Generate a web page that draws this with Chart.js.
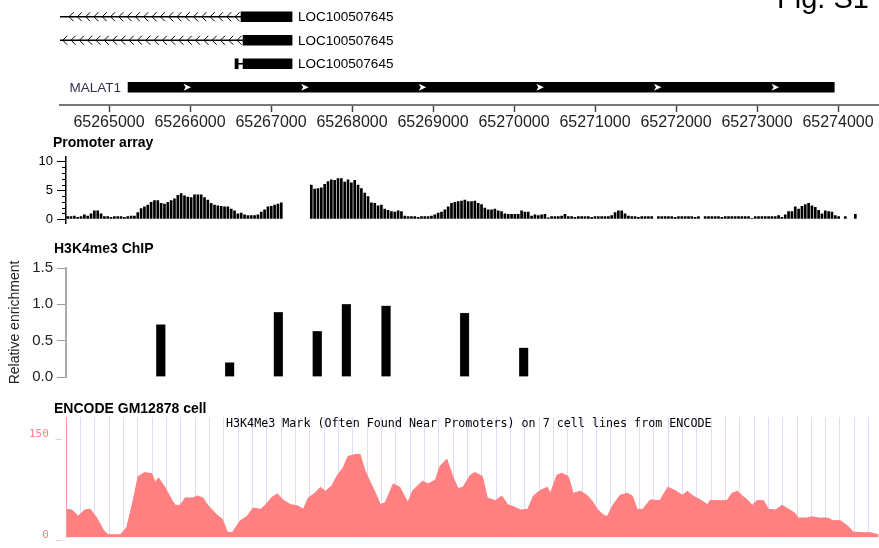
<!DOCTYPE html>
<html>
<head>
<meta charset="utf-8">
<script src="https://cdn.jsdelivr.net/npm/chart.js@4.4.0/dist/chart.umd.min.js"></script>
<style>
body { margin: 0; background: #fff; }
#wrap { position: relative; width: 879px; height: 548px; overflow: hidden; font-family: Arial, 'Liberation Sans', sans-serif; }
canvas { position: absolute; left: 0; }
.t { position: absolute; font-weight: bold; font-size: 14px; line-height: 16px; white-space: nowrap; color: #000; }
#fig { position: absolute; left: 777px; top: -16px; font-size: 29px; line-height: 29px; white-space: nowrap; }
#enctitle { position: absolute; left: 226px; top: 417px; font-family: 'DejaVu Sans Mono', monospace; font-size: 11.7px; line-height: 12px; white-space: nowrap; }
</style>
</head>
<body>
<div id="wrap">
  <canvas id="genes" width="879" height="100" style="top:0"></canvas>
  <canvas id="coord" width="879" height="40" style="top:95px"></canvas>
  <canvas id="prom" width="879" height="90" style="top:145px"></canvas>
  <canvas id="chip" width="879" height="135" style="top:255px"></canvas>
  <canvas id="enc" width="879" height="148" style="top:400px"></canvas>
  <div id="fig">Fig. S1</div>
  <div class="t" style="left:53px;top:134px">Promoter array</div>
  <div class="t" style="left:54px;top:240px">H3K4me3 ChIP</div>
  <div class="t" style="left:54px;top:400px">ENCODE GM12878 cell</div>
  <div id="enctitle">H3K4Me3 Mark (Often Found Near Promoters) on 7 cell lines from ENCODE</div>
</div>
<script>
// genes (hg19 chr11)
var geneNames = ['LOC100507645', 'LOC100507645', 'LOC100507645', 'MALAT1'];
var geneStrand = ['-', '-', '-', '+'];
var exonStart = [65266630, 65266655, 65266655, 65265235];
var exonEnd = [65267260, 65267260, 65267260, 65273954];
var intronStart = [65264395, 65264395, 65266595, null];
var smallExon = [null, null, [65266556, 65266595], null];

var coordTicks = [65265000, 65266000, 65267000, 65268000, 65269000,
                  65270000, 65271000, 65272000, 65273000, 65274000];

// promoter array probes, in order (null = no probe)
var promoterValues = [
  0.5,0.5,0.6,0.4,0.5,0.8,0.6,1.0,1.5,1.5,
  1.0,0.5,0.5,0.4,0.5,0.5,0.5,0.4,0.5,0.6,
  0.6,1.2,1.9,2.2,2.5,3.0,3.3,3.3,2.8,2.7,
  3.0,3.3,3.6,4.2,4.5,4.1,3.9,3.8,4.3,4.3,
  4.3,3.8,3.4,2.8,2.5,2.4,2.3,2.2,2.2,1.8,
  1.5,1.0,1.1,0.8,0.7,0.7,0.7,0.8,1.3,1.7,
  2.2,2.3,2.5,2.7,2.9,null,null,null,null,null,
  null,null,null,6.0,5.3,5.4,5.5,6.1,6.6,6.9,
  6.8,7.1,7.1,6.5,6.9,6.4,6.8,6.0,5.4,4.6,
  4.0,2.9,2.8,2.4,2.5,1.8,1.6,1.4,1.3,1.5,
  1.4,0.6,0.5,0.5,0.5,0.4,0.5,0.5,0.5,0.6,
  0.8,1.1,1.3,1.7,2.2,2.8,3.0,3.1,3.2,3.4,
  3.1,3.1,3.2,2.8,2.6,2.0,1.7,1.7,1.8,1.5,
  1.4,1.0,0.9,0.9,0.9,0.9,1.5,1.3,1.3,0.6,
  0.8,0.7,0.8,0.9,0.3,0.5,0.5,0.5,0.6,0.9,
  0.5,0.5,0.4,0.5,0.5,0.5,0.5,0.4,0.5,0.5,
  0.5,0.5,0.5,0.7,1.2,1.5,1.5,1.0,0.6,0.5,
  0.5,0.4,0.5,0.5,0.5,0.5,null,0.5,0.5,0.5,
  0.5,0.5,0.4,0.5,0.5,0.5,0.5,0.5,0.4,0.5,
  null,0.5,0.5,0.5,0.5,0.5,0.4,0.5,0.5,0.5,
  0.5,0.5,0.5,0.5,0.5,0.2,0.5,0.5,0.5,0.5,
  0.5,0.5,0.5,0.7,0.4,0.8,1.4,1.4,2.2,1.8,
  2.3,2.6,2.8,2.4,2.1,1.6,1.0,1.5,1.4,1.3,
  0.7,0.5,null,0.5,null,null,0.9
];
var probeLabels = promoterValues.map(function (v, i) { return 'p' + (i + 1); });

// H3K4me3 ChIP-qPCR
var chipPos = [65265640, 65266490, 65267090, 65267570, 65267930, 65268420, 65269390, 65270120];
var chipVal = [0.72, 0.20, 0.89, 0.63, 1.00, 0.98, 0.88, 0.40];

// ENCODE GM12878 H3K4me3 signal
var encPos = [
  65264480,65264540,65264620,65264700,65264770,65264850,65264930,65264990,65265070,65265140,
  65265220,65265300,65265360,65265440,65265530,65265570,65265610,65265690,65265780,65265820,
  65265880,65265940,65266030,65266090,65266160,65266220,65266330,65266400,65266460,65266520,
  65266620,65266700,65266780,65266870,65266930,65267010,65267080,65267150,65267240,65267330,
  65267400,65267460,65267540,65267610,65267670,65267750,65267820,65267890,65267950,65268040,
  65268100,65268160,65268220,65268290,65268350,65268410,65268510,65268590,65268690,65268750,
  65268870,65268940,65269030,65269090,65269170,65269250,65269310,65269370,65269460,65269520,
  65269610,65269670,65269770,65269850,65269920,65270010,65270080,65270170,65270240,65270320,
  65270410,65270450,65270530,65270590,65270670,65270730,65270820,65270900,65270960,65271030,
  65271100,65271150,65271220,65271310,65271400,65271460,65271520,65271590,65271680,65271800,
  65271900,65271990,65272080,65272140,65272210,65272300,65272390,65272420,65272550,65272630,
  65272690,65272760,65272820,65272890,65272940,65273000,65273080,65273140,65273230,65273310,
  65273390,65273470,65273510,65273620,65273680,65273760,65273870,65273940,65274030,65274110,
  65274190,65274310,65274400,65274500
];
var encVal = [
  38,37,28,37,38,25,7,0,0,0,
  11,52,87,93,91,78,85,71,51,44,
  44,55,55,58,55,44,30,23,4,3,
  21,27,40,38,44,56,61,52,45,43,
  38,55,62,71,65,73,89,100,117,120,
  120,96,80,62,45,48,76,71,48,66,
  80,76,82,103,113,85,69,71,89,93,
  87,55,51,58,45,41,37,38,58,66,
  71,62,89,92,87,62,65,59,51,38,
  30,27,44,59,62,58,38,38,52,51,
  71,66,59,65,58,52,45,51,51,51,
  62,65,58,51,44,51,51,38,37,44,
  38,32,25,25,27,25,25,21,21,14,
  4,3,3,0
];

var FONT = "Arial, 'Liberation Sans', sans-serif";
var BP_PER_PX = 1000 / 81;
var VIEW_START = 65264395; // genome position at page x = 60
function bpAt(px) { return VIEW_START + (px - 60) * BP_PER_PX; }

Chart.defaults.font.family = FONT;
Chart.defaults.animation = false;
Chart.defaults.responsive = false;
Chart.defaults.plugins.legend.display = false;
Chart.defaults.plugins.tooltip.enabled = false;

var geneDecor = {
  id: 'geneDecor',
  afterDatasetsDraw: function (chart) {
    var ctx = chart.ctx, x = chart.scales.x, y = chart.scales.y;
    ctx.save();
    ctx.font = '13.5px ' + FONT;
    ctx.textBaseline = 'middle';
    geneNames.forEach(function (name, i) {
      var yc = y.getPixelForValue(i);
      var x0 = x.getPixelForValue(exonStart[i]);
      var x1 = x.getPixelForValue(exonEnd[i]);
      if (geneStrand[i] === '-') {
        ctx.fillStyle = '#000';
        ctx.textAlign = 'left';
        ctx.fillText(name, x1 + 6, yc + 1);
        // chevrons along the intron
        if (intronStart[i] !== null) {
          var left = x.getPixelForValue(intronStart[i]);
          ctx.strokeStyle = '#000';
          ctx.lineWidth = 1;
          for (var cx = x0 - 6; cx >= left + 1; cx -= 8.3) {
            ctx.beginPath();
            ctx.moveTo(cx + 4.5, yc - 4.5);
            ctx.lineTo(cx, yc);
            ctx.lineTo(cx + 4.5, yc + 4.5);
            ctx.stroke();
          }
        }
      } else {
        ctx.fillStyle = '#33334d';
        ctx.textAlign = 'right';
        ctx.fillText(name, x0 - 7, yc + 1);
        ctx.fillStyle = '#fff';
        for (var ax = x0 + 59; ax < x1 - 20; ax += 117.6) {
          ctx.beginPath();
          ctx.moveTo(ax - 3.5, yc - 3.5);
          ctx.lineTo(ax + 4, yc);
          ctx.lineTo(ax - 3.5, yc + 3.5);
          ctx.lineTo(ax - 1.5, yc);
          ctx.closePath();
          ctx.fill();
        }
      }
    });
    ctx.restore();
  }
};

new Chart(document.getElementById('genes'), {
  type: 'bar',
  data: {
    labels: geneNames,
    datasets: [
      { data: intronStart.map(function (s, i) { return s === null ? null : [s, exonStart[i]]; }),
        barThickness: 1, backgroundColor: '#000', grouped: false },
      { data: smallExon, barThickness: 10, backgroundColor: '#000', grouped: false },
      { data: exonStart.map(function (s, i) { return [s, exonEnd[i]]; }),
        barThickness: 10, backgroundColor: '#000', grouped: false }
    ]
  },
  options: {
    indexAxis: 'y',
    layout: { padding: { left: 60, right: 0, top: 5, bottom: 1 } },
    scales: {
      x: { type: 'linear', min: bpAt(60), max: bpAt(879), display: false },
      y: { display: false, offset: true }
    }
  },
  plugins: [geneDecor]
});

new Chart(document.getElementById('coord'), {
  type: 'scatter',
  data: { datasets: [{ data: [] }] },
  options: {
    layout: { padding: { left: 60, right: 0, top: 0, bottom: 0 } },
    scales: {
      x: {
        type: 'linear', min: bpAt(60), max: bpAt(879),
        afterBuildTicks: function (s) { s.ticks = coordTicks.map(function (v) { return { value: v }; }); },
        afterFit: function (s) { s.height = 30; },
        ticks: { autoSkip: false, maxRotation: 0, padding: 1, color: '#222', font: { size: 16 },
                 callback: function (v) { return String(v); } },
        grid: { drawOnChartArea: false, tickLength: 7, tickWidth: 1.5, tickColor: '#444' },
        border: { color: '#777', width: 2 }
      },
      y: { display: false }
    }
  }
});

var minorTicks = {
  id: 'minorTicks',
  afterDraw: function (chart) {
    var y = chart.scales.y, ctx = chart.ctx, x0 = y.right;
    ctx.save();
    ctx.strokeStyle = '#000';
    ctx.lineWidth = 1;
    for (var v = 1; v < 10; v++) {
      if (v === 5) continue;
      var py = Math.round(y.getPixelForValue(v)) + 0.5;
      ctx.beginPath();
      ctx.moveTo(x0 - 4, py);
      ctx.lineTo(x0, py);
      ctx.stroke();
    }
    ctx.restore();
  }
};

new Chart(document.getElementById('prom'), {
  type: 'bar',
  data: {
    labels: probeLabels,
    datasets: [{ data: promoterValues, backgroundColor: '#000', barPercentage: 0.8, categoryPercentage: 1 }]
  },
  options: {
    layout: { padding: { left: 0, right: 22, top: 7, bottom: 1 } },
    scales: {
      x: { display: false, offset: true },
      y: {
        min: -0.7, max: 10.85,
        afterFit: function (s) { s.width = 66; },
        afterBuildTicks: function (s) { s.ticks = [0, 5, 10].map(function (v) { return { value: v }; }); },
        ticks: { color: '#000', font: { size: 13 }, padding: 4 },
        grid: { drawOnChartArea: false, tickLength: 9, tickColor: '#000' },
        border: { color: '#000', width: 1.5 }
      }
    }
  },
  plugins: [minorTicks]
});

new Chart(document.getElementById('chip'), {
  type: 'bar',
  data: {
    datasets: [{
      data: chipPos.map(function (p, i) { return { x: p, y: chipVal[i] }; }),
      backgroundColor: '#000', borderColor: '#555', borderWidth: 0.5, barThickness: 9
    }]
  },
  options: {
    layout: { padding: { left: 0, right: 0, top: 9, bottom: 12 } },
    scales: {
      x: { type: 'linear', offset: false, min: bpAt(66), max: bpAt(879), display: false },
      y: {
        min: 0, max: 1.5,
        afterFit: function (s) { s.width = 66; },
        ticks: { stepSize: 0.5, color: '#222', font: { size: 15 }, padding: 4,
                 callback: function (v) { return v.toFixed(1); } },
        grid: { drawOnChartArea: false, tickLength: 9, tickColor: '#999' },
        border: { color: '#aaa', width: 2 },
        title: { display: true, text: 'Relative enrichment', color: '#222', font: { size: 14 },
                 padding: { top: 7, bottom: 0 } }
      }
    }
  }
});

var encGrid = {
  id: 'encGrid',
  beforeDatasetsDraw: function (chart) {
    var ctx = chart.ctx, a = chart.chartArea;
    ctx.save();
    ctx.strokeStyle = '#dcdcff';
    ctx.lineWidth = 1;
    for (var gx = a.left + 14; gx <= a.right - 9; gx += 14.33) {
      var px = Math.round(gx) + 0.5;
      ctx.beginPath();
      ctx.moveTo(px, a.top);
      ctx.lineTo(px, a.bottom);
      ctx.stroke();
    }
    ctx.restore();
  }
};

new Chart(document.getElementById('enc'), {
  type: 'line',
  data: {
    datasets: [{
      data: encPos.map(function (p, i) { return { x: p, y: encVal[i] }; }),
      fill: 'start', backgroundColor: '#ff8080', borderColor: '#ff8080',
      borderWidth: 1, pointRadius: 0, tension: 0
    }]
  },
  options: {
    layout: { padding: { left: 0, right: 0, top: 17, bottom: 0 } },
    scales: {
      x: { type: 'linear', min: bpAt(66), max: bpAt(879), display: false },
      y: {
        min: -4, max: 176,
        afterFit: function (s) { s.width = 66; },
        afterBuildTicks: function (s) { s.ticks = [0, 150].map(function (v) { return { value: v }; }); },
        ticks: { color: '#ff8080', font: { family: "'DejaVu Sans Mono', monospace", size: 11 }, padding: 4,
                 callback: function (v) { return v + ' _'; } },
        grid: { display: true, drawOnChartArea: false, drawTicks: false },
        border: { color: '#ff9999', width: 1 }
      }
    }
  },
  plugins: [encGrid]
});
</script>
</body>
</html>
